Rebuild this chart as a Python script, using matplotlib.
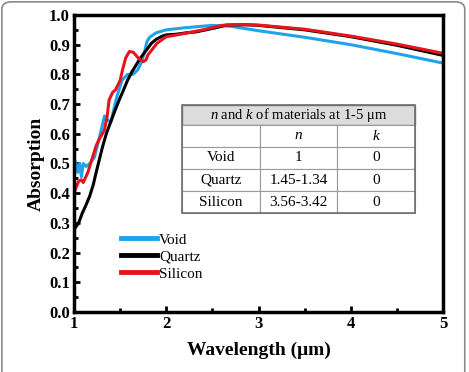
import matplotlib.pyplot as plt
from matplotlib.patches import FancyBboxPatch, Rectangle
from matplotlib.ticker import MultipleLocator

plt.rcParams['font.family'] = ['Liberation Serif', 'DejaVu Serif']
plt.rcParams['mathtext.fontset'] = 'custom'
plt.rcParams['mathtext.rm'] = 'Liberation Serif'
plt.rcParams['mathtext.it'] = 'Liberation Serif:italic'

# ---- données ----
x_void = [1.0, 1.02, 1.04, 1.06, 1.08, 1.1, 1.13, 1.17, 1.22, 1.27, 1.3, 1.33, 1.37, 1.4,
          1.46, 1.52, 1.58, 1.64, 1.69, 1.73, 1.76, 1.79, 1.82, 1.89, 2.0, 2.2, 2.5, 2.7,
          3.0, 3.5, 4.0, 4.5, 5.0]
y_void = [0.52, 0.5, 0.47, 0.5, 0.455, 0.5, 0.49, 0.5, 0.52, 0.58, 0.62, 0.66, 0.645, 0.64,
          0.72, 0.78, 0.8, 0.8, 0.815, 0.84, 0.87, 0.91, 0.925, 0.94, 0.95, 0.957, 0.965, 0.962,
          0.947, 0.925, 0.9, 0.87, 0.838]

x_quartz = [1.0, 1.05, 1.09, 1.13, 1.17, 1.21, 1.24, 1.28, 1.31, 1.35, 1.38, 1.44, 1.49,
            1.54, 1.58, 1.63, 1.67, 1.72, 1.78, 1.84, 1.89, 1.95, 2.0, 2.1, 2.22, 2.32, 2.43,
            2.55, 2.65, 2.87, 3.0, 3.5, 4.0, 4.5, 5.0]
y_quartz = [0.277, 0.3, 0.333, 0.36, 0.39, 0.43, 0.47, 0.52, 0.557, 0.6, 0.625, 0.675, 0.714,
            0.75, 0.78, 0.81, 0.83, 0.855, 0.88, 0.905, 0.918, 0.928, 0.933, 0.935, 0.94, 0.943,
            0.95, 0.958, 0.966, 0.967, 0.965, 0.95, 0.927, 0.898, 0.864]

x_silicon = [1.0, 1.03, 1.05, 1.08, 1.1, 1.15, 1.2, 1.24, 1.27, 1.33, 1.36, 1.38, 1.42, 1.45,
             1.5, 1.53, 1.56, 1.6, 1.64, 1.67, 1.7, 1.75, 1.78, 1.8, 1.85, 1.9, 2.0, 2.1, 2.2,
             2.4, 2.6, 2.8, 3.0, 3.5, 4.0, 4.5, 5.0]
y_silicon = [0.4, 0.425, 0.44, 0.445, 0.436, 0.47, 0.52, 0.56, 0.58, 0.613, 0.66, 0.714, 0.74,
             0.748, 0.78, 0.82, 0.855, 0.877, 0.875, 0.865, 0.854, 0.843, 0.848, 0.865, 0.885,
             0.905, 0.927, 0.932, 0.938, 0.95, 0.965, 0.968, 0.966, 0.952, 0.929, 0.902, 0.871]

table_header = "$\\it{n}$ and $\\it{k}$ of materials at 1-5 \u03bcm"
table_cells = [["", "$\\it{n}$", "$\\it{k}$"],
               ["Void", "1", "0"],
               ["Quartz", "1.45-1.34", "0"],
               ["Silicon", "3.56-3.42", "0"]]

fig = plt.figure(figsize=(4.69, 3.72), dpi=100)
ax = fig.add_axes([0.1578, 0.1613, 0.7868, 0.7984])

# cadre arrondi de l'image
fig.patches.append(FancyBboxPatch((0.004, -0.1), 0.987, 1.095, boxstyle="round,pad=0,rounding_size=0.02",
                                  transform=fig.transFigure, fill=False, ec='#8a8a8a', lw=1.2))

ax.plot(x_void, y_void, color='#1fa3ea', lw=2.2, label='Void')
ax.plot(x_quartz, y_quartz, color='black', lw=2.2, label='Quartz')
ax.plot(x_silicon, y_silicon, color='#e8141b', lw=2.2, label='Silicon')

ax.set_xlim(1, 5)
ax.set_ylim(0, 1.0)
ax.xaxis.set_major_locator(MultipleLocator(1))
ax.xaxis.set_minor_locator(MultipleLocator(0.5))
ax.yaxis.set_major_locator(MultipleLocator(0.1))
ax.yaxis.set_minor_locator(MultipleLocator(0.05))
ax.yaxis.set_major_formatter(plt.FormatStrFormatter('%.1f'))
ax.tick_params(which='both', direction='in', width=2.0, labelsize=12, pad=3)
ax.tick_params(which='major', length=4)
ax.tick_params(which='minor', length=3)
for lab in ax.get_xticklabels() + ax.get_yticklabels():
    lab.set_fontweight('bold')
for s in ax.spines.values():
    s.set_linewidth(2.5)

ax.set_xlabel("Wavelength (\u03bcm)", fontsize=14, fontweight='bold', labelpad=7)
ax.set_ylabel("Absorption", fontsize=14, fontweight='bold', labelpad=3)

leg = ax.legend(loc='lower left', bbox_to_anchor=(0.11, 0.085), frameon=False, fontsize=11,
                handlelength=2.4, handletextpad=0.1, labelspacing=0.22, borderaxespad=0)
for h in leg.get_lines():
    h.set_linewidth(3.5)

# tableau
x0, x1 = 0.293, 0.924
y_top, y_bot = 0.697, 0.333
hdr_h = 0.067
ax.add_patch(Rectangle((x0, y_top - hdr_h), x1 - x0, hdr_h, transform=ax.transAxes,
                       fc='#dcdcdc', ec='#7a7a7a', lw=1.0, zorder=5))
ax.text((x0 + x1) / 2, y_top - hdr_h / 2, table_header, transform=ax.transAxes,
        ha='center', va='center', fontsize=10.5, zorder=6)
tb = ax.table(cellText=table_cells, cellLoc='center',
              bbox=[x0, y_bot, x1 - x0, y_top - hdr_h - y_bot], zorder=5)
tb.auto_set_font_size(False)
tb.set_fontsize(11)
for (r, c), cell in tb.get_celld().items():
    cell.set_edgecolor('#9a9a9a')
    cell.set_linewidth(0.8)
ax.add_patch(Rectangle((x0, y_bot), x1 - x0, y_top - y_bot, transform=ax.transAxes,
                       fill=False, ec='#6e6e6e', lw=1.2, zorder=7))

fig.savefig("out.png", dpi=100)
